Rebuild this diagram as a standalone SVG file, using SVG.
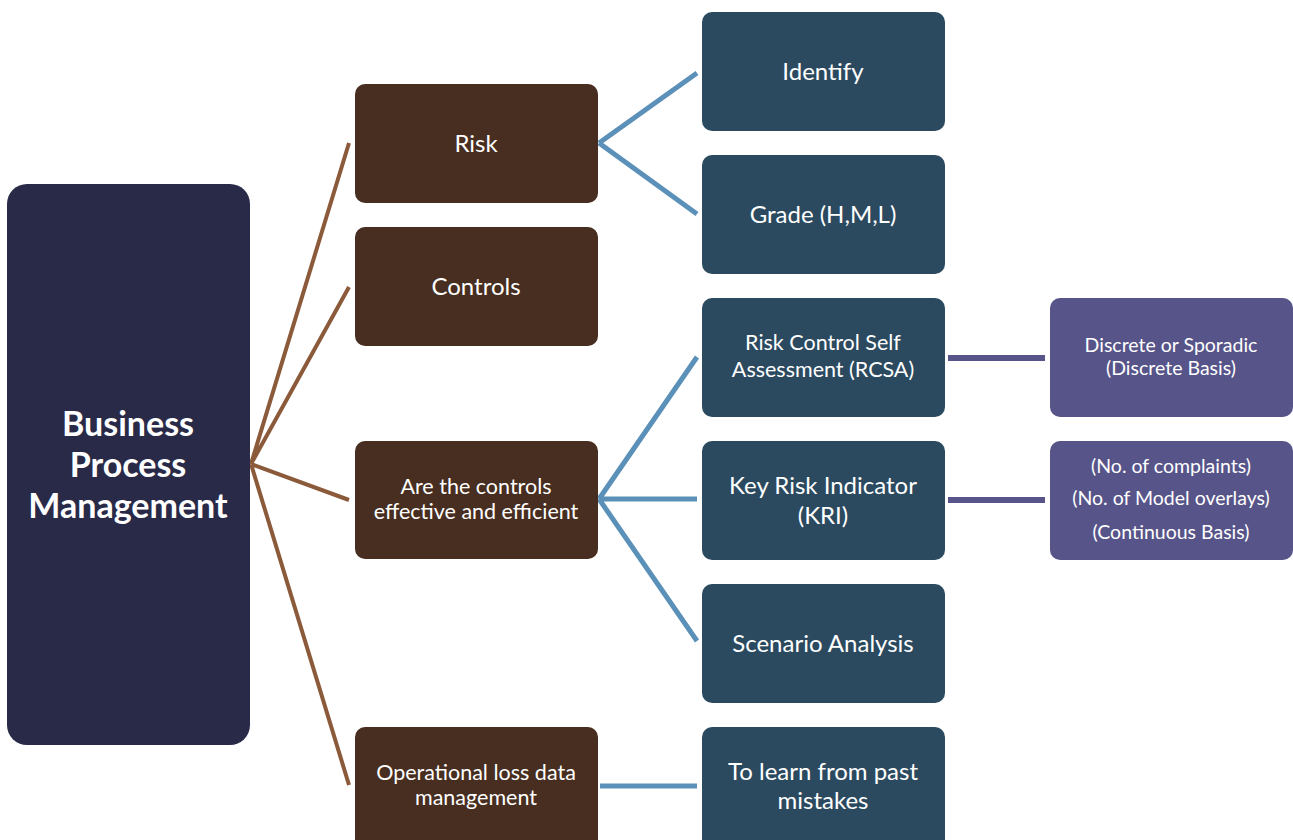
<svg xmlns="http://www.w3.org/2000/svg" width="1293" height="840" viewBox="0 0 1293 840">
<style>
text{font-family:Lato,"Open Sans","Liberation Sans",sans-serif;fill:#fff;text-anchor:middle;dominant-baseline:central}
.root{fill:#292a48}
.br{fill:#472e20}
.tl{fill:#2b4a5f}
.pu{fill:#575489}
.lb{stroke:#8b5a3a;stroke-width:4;fill:none}
.lt{stroke:#5b91b8;stroke-width:5;fill:none}
.lp{stroke:#575489;stroke-width:6;fill:none}
.t22{font-size:24px}
.t20{font-size:21.5px}
.t18{font-size:19.5px}
</style>
<rect width="1293" height="840" fill="#fff"/>
<g id="connectors">
<path class="lb" d="M251 464 L349 143 M251 464 L349 287 M251 464 L349 500 M251 464 L349 785"/>
<path class="lt" d="M599 143 L697 73 M599 143 L697 214 M599 499 L697 357 M599 499 L697 499 M599 499 L697 641"/>
<path class="lt" d="M600 786 H697" stroke-width="6"/>
<path class="lp" d="M948 358 H1045 M948 500 H1045"/>
</g>
<g id="bpm"><rect class="root" x="7" y="184" width="243" height="561" rx="20"/>
<text x="128" y="422" font-size="34" font-weight="bold">Business</text>
<text x="128" y="463" font-size="34" font-weight="bold">Process</text>
<text x="128" y="504" font-size="34" font-weight="bold">Management</text></g>
<g id="risk"><rect class="br" x="355" y="84" width="243" height="119" rx="10"/><text class="t22" x="476" y="142">Risk</text></g>
<g id="controls"><rect class="br" x="355" y="227" width="243" height="119" rx="10"/><text class="t22" x="476" y="285">Controls</text></g>
<g id="effective"><rect class="br" x="355" y="441" width="243" height="118" rx="10"/><text class="t20" x="476" y="486">Are the controls</text><text class="t20" x="476" y="511">effective and efficient</text></g>
<g id="oploss"><rect class="br" x="355" y="727" width="243" height="130" rx="10"/><text class="t20" x="476" y="772">Operational loss data</text><text class="t20" x="476" y="797">management</text></g>
<g id="identify"><rect class="tl" x="702" y="12" width="243" height="119" rx="10"/><text class="t22" x="823" y="70">Identify</text></g>
<g id="grade"><rect class="tl" x="702" y="155" width="243" height="119" rx="10"/><text class="t22" x="823" y="213">Grade (H,M,L)</text></g>
<g id="rcsa"><rect class="tl" x="702" y="298" width="243" height="119" rx="10"/><text class="t20" x="823" y="342">Risk Control Self</text><text class="t20" x="823" y="369">Assessment (RCSA)</text></g>
<g id="kri"><rect class="tl" x="702" y="441" width="243" height="119" rx="10"/><text class="t22" x="823" y="484">Key Risk Indicator</text><text class="t22" x="823" y="514">(KRI)</text></g>
<g id="scenario"><rect class="tl" x="702" y="584" width="243" height="119" rx="10"/><text class="t22" x="823" y="642">Scenario Analysis</text></g>
<g id="learn"><rect class="tl" x="702" y="727" width="243" height="130" rx="10"/><text class="t22" x="823" y="770">To learn from past</text><text class="t22" x="823" y="799">mistakes</text></g>
<g id="discrete"><rect class="pu" x="1050" y="298" width="243" height="119" rx="10"/><text class="t18" x="1171" y="344">Discrete or Sporadic</text><text class="t18" x="1171" y="367">(Discrete Basis)</text></g>
<g id="continuous"><rect class="pu" x="1050" y="441" width="243" height="119" rx="10"/><text class="t18" x="1171" y="465">(No. of complaints)</text><text class="t18" x="1171" y="497">(No. of Model overlays)</text><text class="t18" x="1171" y="531">(Continuous Basis)</text></g>
</svg>
